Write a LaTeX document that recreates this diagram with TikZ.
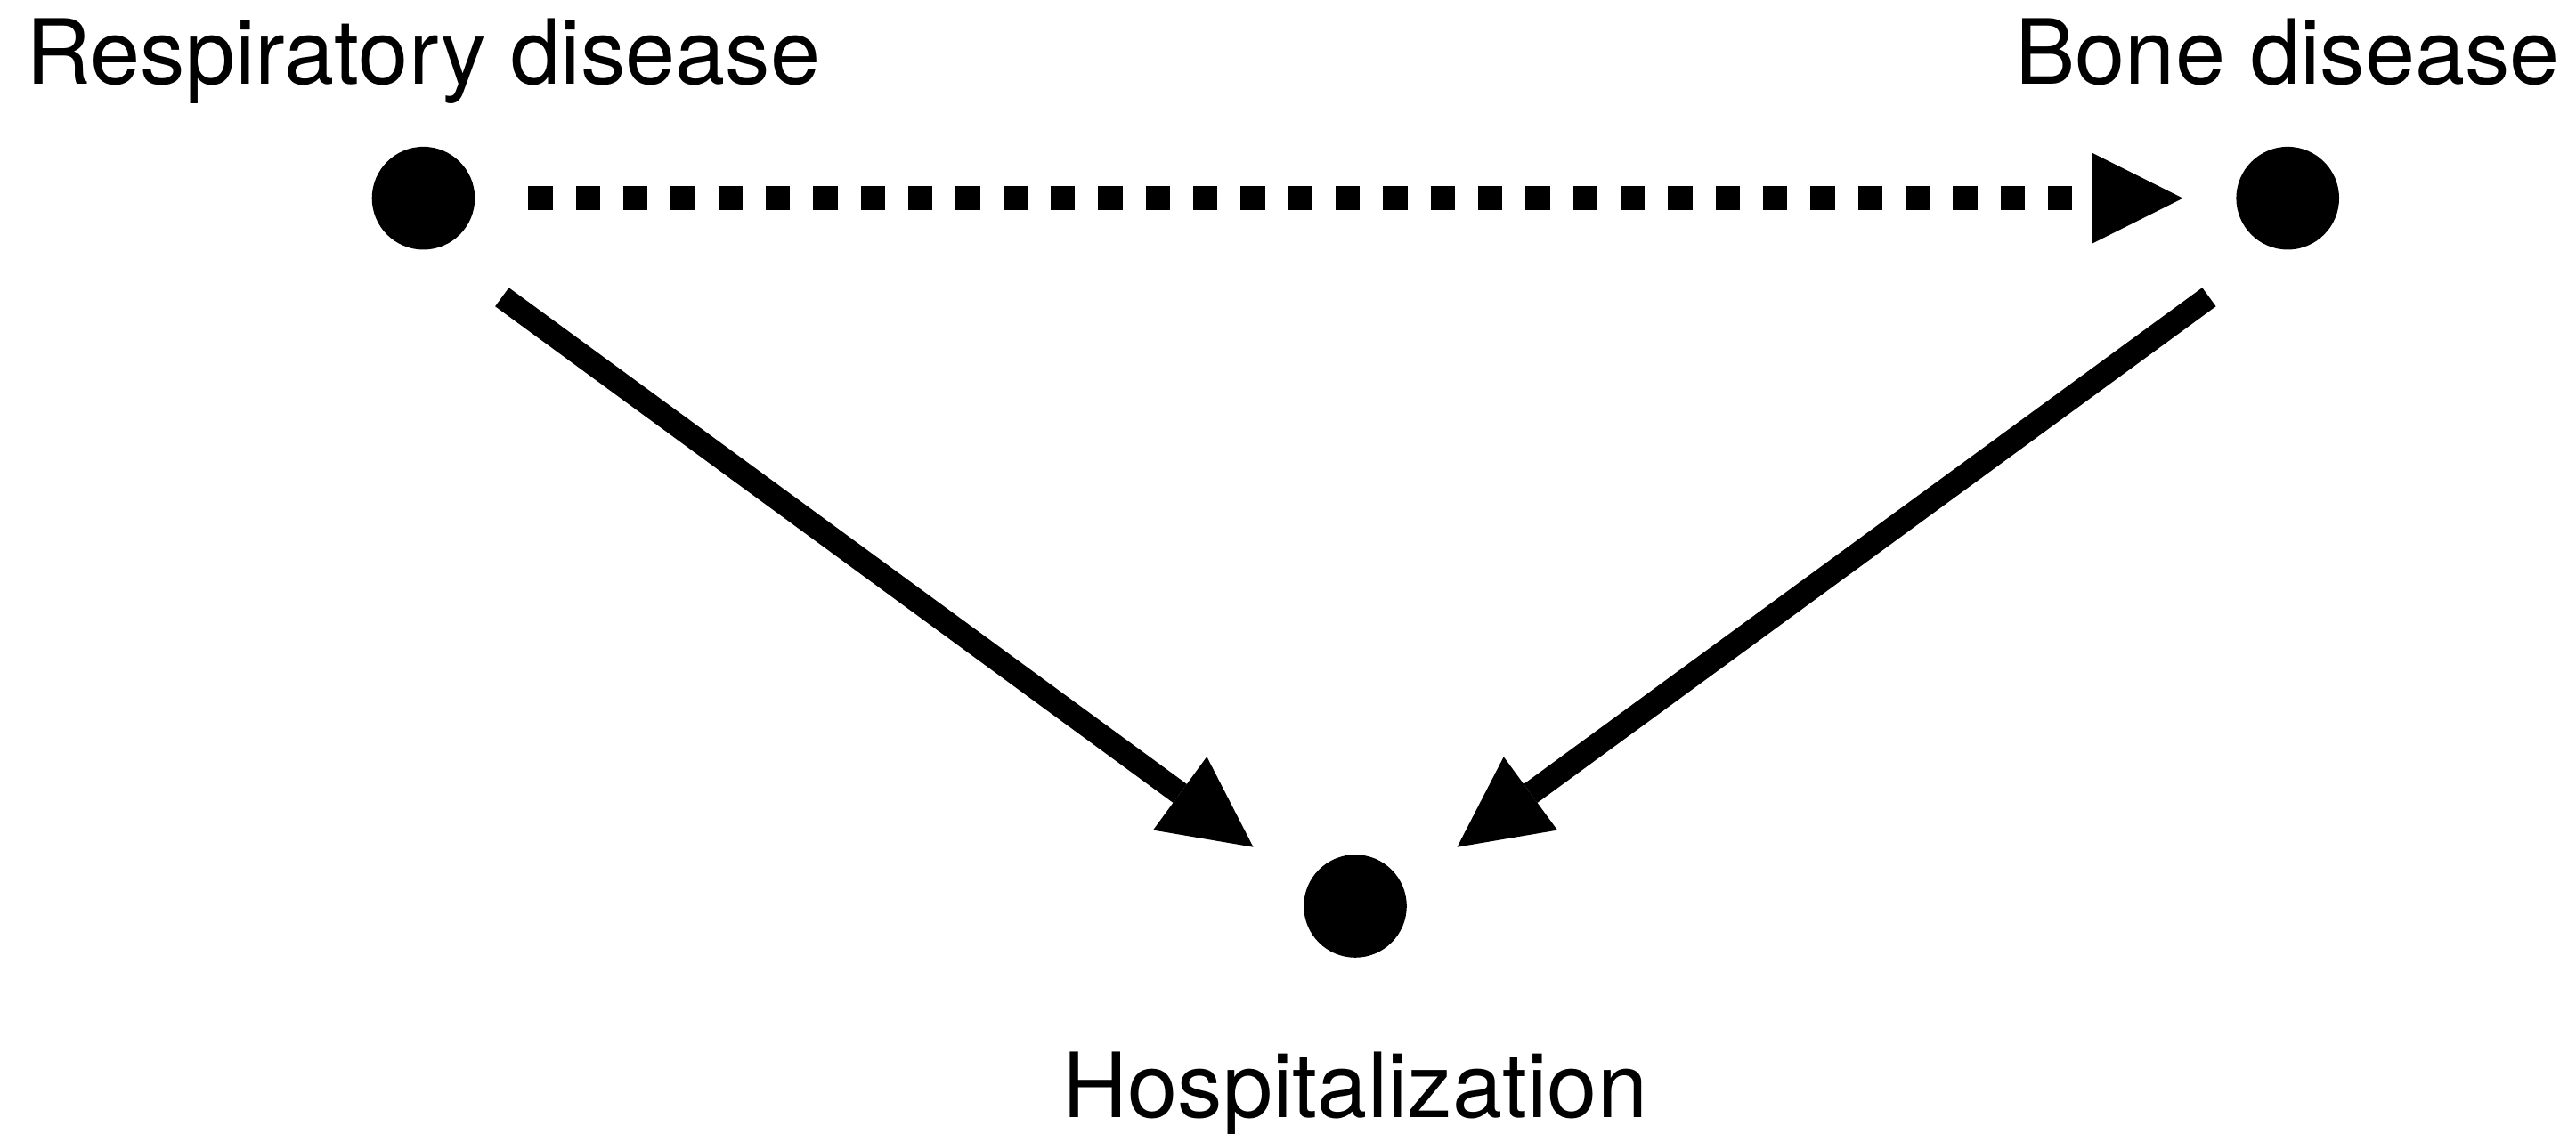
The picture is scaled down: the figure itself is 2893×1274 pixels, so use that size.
\documentclass[tikz,border=0pt]{standalone}
\usepackage{fontspec}
\setmainfont{TeX Gyre Heros}
\usepackage{tikz}
\usetikzlibrary{positioning}
\usetikzlibrary{calc}
\usetikzlibrary{arrows.meta}

\begin{document}
\begin{tikzpicture}[x=0.01cm, y=-0.01cm,
    vardot/.style={circle, fill=black, inner sep=0pt, outer sep=0pt, minimum size=1.155cm},
    vartext/.style={inner sep=0pt, anchor=base, font=\fontsize{28.7}{34}\selectfont},
    arrow/.style={-{Triangle[length=1.02cm, width=1.02cm, line width=0pt]}, line width=0.26cm},
    dotarrow/.style={arrow, line width=0.27cm, dash pattern=on 0.273cm off 0.26cm, shorten <=0.6cm, shorten >=0.6cm},
]
\useasboundingbox (0,0) rectangle (2893,1274);

\node[vardot] (respiratory) at (475.5,222.7) {};
\node[vardot, right=19.77cm of respiratory] (bone) {};
\node[vardot] (hospitalization) at (1522,1018) {};

\node[above=0.7cm of respiratory, vartext] (respiratory_text) {Respiratory disease};
\node[above=0.7cm of bone, vartext] (bone_text) {Bone disease};
\node[below=1.793cm of hospitalization, vartext] (hospitalization_text) {Hospitalization};

\draw[dotarrow] (respiratory) -- (bone);
\draw[arrow] ([shift={(88.3,111)}]respiratory.center) -- ([shift={(-114.5,-66.3)}]hospitalization.center);
\draw[arrow] ([shift={(-88.3,111)}]bone.center) -- ([shift={(114.5,-66.3)}]hospitalization.center);

\end{tikzpicture}
\end{document}
